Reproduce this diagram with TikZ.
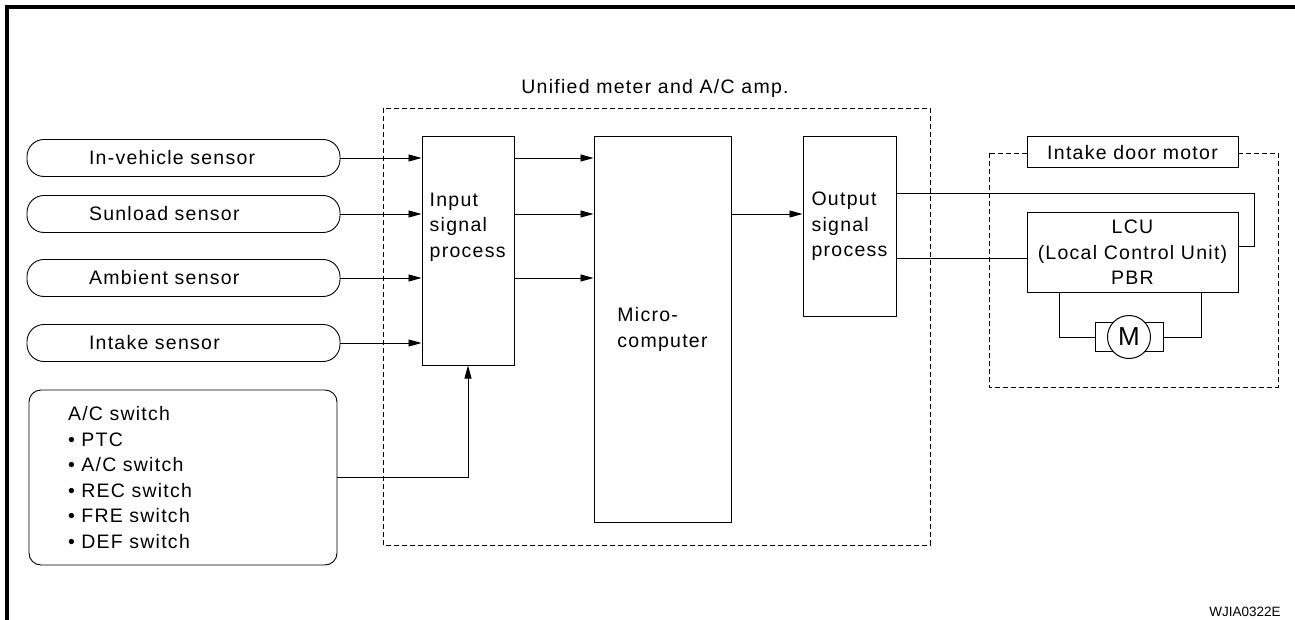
\documentclass[tikz,border=0pt]{standalone}
\usepackage{fontspec}
\setmainfont{Liberation Sans}[LetterSpace=6.5]
\usetikzlibrary{arrows.meta,positioning}

\begin{document}
\begin{tikzpicture}[x=1pt,y=-1pt,font=\fontsize{19.5}{25.5}\selectfont,
    box/.style={draw,line width=1pt,fill=white,inner sep=0pt},
    sensor/.style={draw,line width=0.9pt,rounded corners=17pt,minimum width=313pt,minimum height=37pt,text width=189pt,inner xsep=62pt,inner ysep=0pt,align=left},
    sig/.style={line width=0.9pt,-{Triangle[length=13pt,width=7pt]}},
    wire/.style={line width=0.9pt},
    zone/.style={draw,line width=0.9pt,dash pattern=on 5pt off 3pt}]
  \useasboundingbox (0,0) rectangle (1295,620);
  \draw[line width=4pt] (7,620) -- (7,7.5) -- (1295,7.5);
  % unified meter and A/C amp
  \draw[zone] (383,108) rectangle (930,545);
  \node (amp) at (655,88) {Unified meter and A/C amp.};
  % sensors
  \node[sensor] (ivs) at (183.5,158) {In-vehicle sensor};
  \node[sensor] (sun) at (183.5,214) {Sunload sensor};
  \node[sensor] (amb) at (183.5,278) {Ambient sensor};
  \node[sensor] (ins) at (183.5,343) {Intake sensor};
  \node[draw,line width=0.9pt,rounded corners=12pt,minimum width=308pt,minimum height=175pt,text width=230pt,inner xsep=39pt,align=left] (acs) at (183,477.5)
    {A/C switch\\\textbullet\ PTC\\\textbullet\ A/C switch\\\textbullet\ REC switch\\\textbullet\ FRE switch\\\textbullet\ DEF switch};
  % amp blocks
  \node[box,minimum width=92pt,minimum height=228pt,
    label={[anchor=north west,inner sep=0pt,align=left,xshift=8pt,yshift=-56pt]north west:{Input\\signal\\process}}] (inp) at (468,251) {};
  \node[box,minimum width=137pt,minimum height=385pt,align=left] (mc) at (662.5,329.5) {Micro-\\computer};
  \node[box,minimum width=93pt,minimum height=179pt,align=left] (outp) at (849.5,226.5) {Output\\signal\\process};
  \foreach \s in {ivs,sun,amb,ins}
    \draw[sig] (\s.east) -- (inp.west |- \s);
  \foreach \s in {ivs,sun,amb}
    \draw[sig] (inp.east |- \s) -- (mc.west |- \s);
  \draw[sig] (acs.east) -| (inp.south);
  \draw[sig] (mc.east |- sun) -- (outp.west |- sun);
  % intake door motor
  \draw[zone] (989,153) rectangle (1278,387);
  \node[box,minimum width=211pt,minimum height=31pt] (idm) at (1132.5,152.5) {Intake door motor};
  \node[box,minimum width=211pt,minimum height=79pt,align=center] (lcu) at (1132.5,252.5) {LCU\\(Local Control Unit)\\PBR};
  \node[box,minimum width=68pt,minimum height=29pt] (motbody) at (1129,337) {};
  \node[box,circle,minimum size=43pt,font=\fontsize{26}{26}\selectfont] (mot) at (1129,337) {M};
  \draw[wire] ([yshift=33pt]outp.east) -| ([xshift=16pt,yshift=6pt]lcu.east) -- ([yshift=6pt]lcu.east);
  \draw[wire] ([yshift=-32pt]outp.east) -- ([yshift=-32pt]outp.east -| lcu.west);
  \draw[wire] ([xshift=-73.5pt]lcu.south) |- (motbody.west);
  \draw[wire] ([xshift=68.5pt]lcu.south) |- (motbody.east);
  \node[font=\fontsize{13.5}{14}\selectfont\addfontfeature{LetterSpace=0}] (tag) at (1245,612) {WJIA0322E};
\end{tikzpicture}
\end{document}
